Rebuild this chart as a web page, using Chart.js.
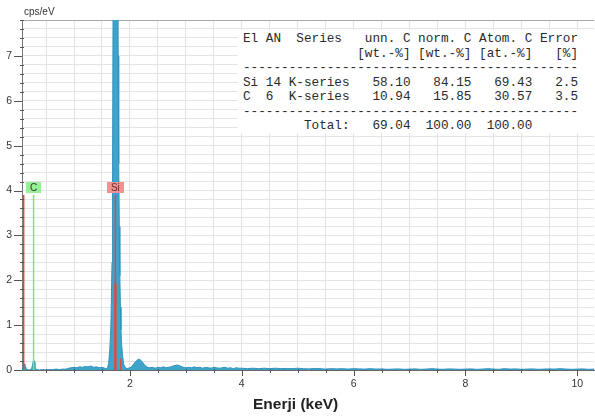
<!DOCTYPE html>
<html>
<head>
<meta charset="utf-8">
<script src="https://cdn.jsdelivr.net/npm/chart.js@4.4.1/dist/chart.umd.min.js"></script>
<style>
  body { margin: 0; background: #fff; }
  #wrap { position: relative; width: 595px; height: 419px; }
  #unit { position: absolute; left: 24px; top: 6px; font: 10px Arial, 'Liberation Sans', sans-serif; color: #333; }
  #xtitle { position: absolute; left: 253px; top: 395px; font: bold 15.5px/17px Arial, 'Liberation Sans', sans-serif; color: #222; white-space: nowrap; }
  #table { position: absolute; left: 238px; top: 30px; width: 357px; height: 103px; background: #fff; }
  #table pre { margin: 0; padding: 2px 0 0 5px; font: 12.7px/14.5px 'Liberation Mono', 'Courier New', monospace; color: #2a2a2a; }
</style>
</head>
<body>
<div id="wrap">
  <canvas id="spectrum" width="595" height="419"></canvas>
  <div id="unit">cps/eV</div>
  <div id="xtitle">Enerji (keV)</div>
  <div id="table"><pre id="quant"></pre></div>
</div>
<script>
// spectrum, energy in keV
const spectrumKeV = [
  0.07, 0.08, 0.09, 0.10, 0.11, 0.12, 0.13, 0.14, 0.16, 0.20, 0.24, 0.26, 0.27, 0.28, 0.29, 0.30, 0.31, 0.33, 0.38, 0.44, 0.50, 0.56, 0.62, 0.68, 0.74, 0.80, 0.86,
  0.90, 0.95, 1.00, 1.05, 1.10, 1.15, 1.20, 1.25, 1.30, 1.35, 1.40, 1.45, 1.50, 1.55, 1.58,
  1.60, 1.62, 1.64, 1.66, 1.68, 1.69, 1.70, 1.71, 1.72, 1.73, 1.74, 1.75, 1.76, 1.77, 1.78, 1.79, 1.80, 1.81, 1.82, 1.83, 1.84, 1.85, 1.87, 1.89, 1.92, 1.95,
  2.00, 2.03, 2.06, 2.09, 2.12, 2.15, 2.18, 2.21, 2.24, 2.27, 2.30, 2.35, 2.40, 2.45, 2.50, 2.55, 2.60, 2.65, 2.70, 2.75, 2.80, 2.85, 2.90, 2.95,
  3.00, 3.05, 3.10, 3.15, 3.20, 3.25, 3.30, 3.35, 3.40, 3.45, 3.50, 3.55, 3.60, 3.65, 3.70, 3.75, 3.80, 3.85, 3.90, 3.95, 4.00,
  4.1, 4.2, 4.3, 4.4, 4.5, 4.6, 4.7, 4.8, 4.9, 5.0,
  5.1, 5.2, 5.3, 5.4, 5.5, 5.6, 5.7, 5.8, 5.9, 6.0,
  6.1, 6.2, 6.3, 6.4, 6.5, 6.6, 6.7, 6.8, 6.9, 7.0,
  7.1, 7.2, 7.3, 7.4, 7.5, 7.6, 7.7, 7.8, 7.9, 8.0,
  8.1, 8.2, 8.3, 8.4, 8.5, 8.6, 8.7, 8.8, 8.9, 9.0,
  9.1, 9.2, 9.3, 9.4, 9.5, 9.6, 9.7, 9.8, 9.9, 10.0,
  10.1, 10.2, 10.3
];
// counts, cps/eV (Si peak goes off the top of the axis)
const spectrumCps = [
  0, 0.05, 0.10, 0.12, 0.07, 0.14, 0.06, 0.03, 0.01, 0.00, 0.02, 0.12, 0.20, 0.22, 0.18, 0.10, 0.04, 0.01, 0.00, 0.01, 0.00, 0.01, 0.01, 0.02, 0.01, 0.02, 0.02,
  0.04, 0.05, 0.06, 0.05, 0.07, 0.06, 0.08, 0.07, 0.09, 0.06, 0.07, 0.05, 0.06, 0.04, 0.03,
  0.05, 0.15, 0.45, 1.0, 2.4, 4.6, 8.5, 14, 22, 28, 31, 30, 25, 18, 11, 7.0, 4.6, 3.2, 2.1, 1.4, 0.9, 0.6, 0.3, 0.12, 0.05, 0.03,
  0.05, 0.07, 0.12, 0.17, 0.21, 0.24, 0.23, 0.20, 0.15, 0.10, 0.07, 0.05, 0.06, 0.04, 0.06, 0.05, 0.07, 0.05, 0.06, 0.08, 0.10, 0.11, 0.09, 0.06,
  0.05, 0.06, 0.05, 0.07, 0.05, 0.06, 0.04, 0.06, 0.05, 0.04, 0.06, 0.05, 0.04, 0.05, 0.06, 0.04, 0.05, 0.03, 0.05, 0.04, 0.04,
  0.03, 0.04, 0.03, 0.04, 0.03, 0.04, 0.03, 0.035, 0.03, 0.04,
  0.03, 0.025, 0.035, 0.03, 0.02, 0.03, 0.025, 0.03, 0.02, 0.03,
  0.025, 0.02, 0.03, 0.02, 0.025, 0.015, 0.02, 0.025, 0.015, 0.02,
  0.025, 0.015, 0.02, 0.03, 0.02, 0.015, 0.025, 0.02, 0.015, 0.02,
  0.025, 0.015, 0.02, 0.03, 0.02, 0.015, 0.03, 0.02, 0.025, 0.015,
  0.02, 0.025, 0.015, 0.02, 0.025, 0.02, 0.03, 0.02, 0.015, 0.02,
  0.025, 0.015, 0.02
];

// element line markers
const markerKeV = [0.1, 0.277, 1.74, 1.74, 1.835];
const markerTop = [3.9, 3.9, 3.9, 1.93, 0.25];
const markerElem = ['O', 'C', 'Si', 'Si', 'Si'];
const labelElem = ['C', 'Si'];
const labelKeV = [0.277, 1.74];
const labelLevel = 4.06;

// axes
const xTickValues = [2, 4, 6, 8, 10];
const yTickValues = [0, 1, 2, 3, 4, 5, 6, 7];

// quantification table
const qEl = ['Si', 'C'];
const qAN = ['14', '6'];
const qSeries = ['K-series', 'K-series'];
const qUnn = ['58.10', '10.94'];
const qNorm = ['84.15', '15.85'];
const qAtom = ['69.43', '30.57'];
const qErr = ['2.5', '3.5'];
const qTotal = ['69.04', '100.00', '100.00'];

const elemColor = { Si: '#e04848', O: '#e04848', C: '#82e082' };
const labelBg = { Si: '#f49090', C: '#96f096' };
const labelInk = { Si: '#5a3030', C: '#2a3a2a' };

// table text
const dash = '-'.repeat(44);
const rows = ['El AN  Series   unn. C norm. C Atom. C Error',
  ' '.repeat(15) + '[wt.-%] [wt.-%] [at.-%]   [%]', dash];
qEl.forEach((el, i) => {
  rows.push(el.padEnd(3) + qAN[i].padEnd(3) + qSeries[i] + qUnn[i].padStart(8) +
    qNorm[i].padStart(8) + qAtom[i].padStart(8) + qErr[i].padStart(6));
});
rows.push(dash);
rows.push(' '.repeat(8) + 'Total:' + qTotal.map(v => v.padStart(8)).join(''));
document.getElementById('quant').textContent = rows.join('\n');

const datasets = [{
  data: spectrumKeV.map((e, i) => ({ x: e, y: spectrumCps[i] })),
  borderColor: '#2f93bd',
  backgroundColor: '#3ea4cb',
  borderWidth: 1,
  fill: 'origin',
  pointRadius: 0,
  tension: 0,
  order: 2
}];
markerKeV.forEach((e, i) => {
  datasets.push({
    data: [{ x: e, y: 0 }, { x: e, y: markerTop[i] }],
    borderColor: elemColor[markerElem[i]],
    borderWidth: markerTop[i] < 3 && markerElem[i] === 'Si' && markerTop[i] > 1 ? 2.5 : 1.5,
    pointRadius: 0,
    fill: false,
    order: 1
  });
});

const minorX = [];
for (let v = 0.5; v <= 10; v += 0.5) minorX.push(v);
const minorY = [];
for (let k = 0; k <= 39; k++) minorY.push(Math.round(k * 2) / 10);

const isMajorX = v => xTickValues.includes(v);
const isMajorY = v => yTickValues.includes(v);

const tickMarks = {
  id: 'tickMarks',
  afterDraw(chart) {
    const { ctx, scales: { x, y }, chartArea: a } = chart;
    ctx.save();
    ctx.strokeStyle = '#555';
    ctx.lineWidth = 1;
    ctx.beginPath();
    minorY.forEach(v => {
      const py = Math.round(y.getPixelForValue(v)) + 0.5;
      if (isMajorY(v)) { ctx.moveTo(a.left - 8, py); ctx.lineTo(a.left, py); }
      else { ctx.moveTo(a.left - 2, py); ctx.lineTo(a.left + 2, py); }
    });
    minorX.forEach(v => {
      const px = Math.round(x.getPixelForValue(v)) + 0.5;
      if (isMajorX(v)) { ctx.moveTo(px, a.bottom); ctx.lineTo(px, a.bottom + 6); }
      else { ctx.moveTo(px, a.bottom - 1); ctx.lineTo(px, a.bottom + 3); }
    });
    ctx.stroke();
    ctx.restore();
  }
};

const elemLabels = {
  id: 'elemLabels',
  afterDatasetsDraw(chart) {
    const { ctx, scales: { x, y } } = chart;
    ctx.save();
    ctx.font = '10px Arial, "Liberation Sans", sans-serif';
    ctx.textAlign = 'center';
    ctx.textBaseline = 'middle';
    labelElem.forEach((el, i) => {
      const px = x.getPixelForValue(labelKeV[i]);
      const py = y.getPixelForValue(labelLevel);
      const w = ctx.measureText(el).width + 8;
      ctx.fillStyle = labelBg[el];
      ctx.fillRect(Math.round(px - w / 2), Math.round(py - 5.5), Math.round(w), 11);
      ctx.fillStyle = labelInk[el];
      ctx.fillText(el, px, py + 0.5);
    });
    ctx.restore();
  }
};

const font = { family: 'Arial, "Liberation Sans", sans-serif', size: 10.5 };

new Chart(document.getElementById('spectrum'), {
  type: 'line',
  data: { datasets },
  plugins: [tickMarks, elemLabels],
  options: {
    responsive: false,
    animation: false,
    layout: { padding: { top: 20, left: 0, right: 1, bottom: 0 } },
    plugins: { legend: { display: false }, tooltip: { enabled: false } },
    scales: {
      x: {
        type: 'linear',
        min: 0.07,
        max: 10.3,
        afterFit: s => { s.height = 49; },
        afterBuildTicks: s => { s.ticks = minorX.map(v => ({ value: v })); },
        grid: { color: '#e4e4e4', drawTicks: false },
        border: { color: '#666' },
        ticks: {
          autoSkip: false, maxRotation: 0, padding: 8, color: '#333', font,
          callback: v => isMajorX(v) ? String(v) : ''
        }
      },
      y: {
        min: 0,
        max: 7.8,
        afterFit: s => { s.width = 22; },
        afterBuildTicks: s => { s.ticks = minorY.concat([7.8]).map(v => ({ value: v })); },
        grid: {
          drawTicks: false,
          color: c => c.tick && c.tick.value >= 7.8 ? '#aaa' : '#e4e4e4'
        },
        border: { color: '#777' },
        ticks: {
          autoSkip: false, padding: 10, color: '#333', font,
          callback: v => isMajorY(v) ? String(v) : ''
        }
      }
    }
  }
});
</script>
</body>
</html>
